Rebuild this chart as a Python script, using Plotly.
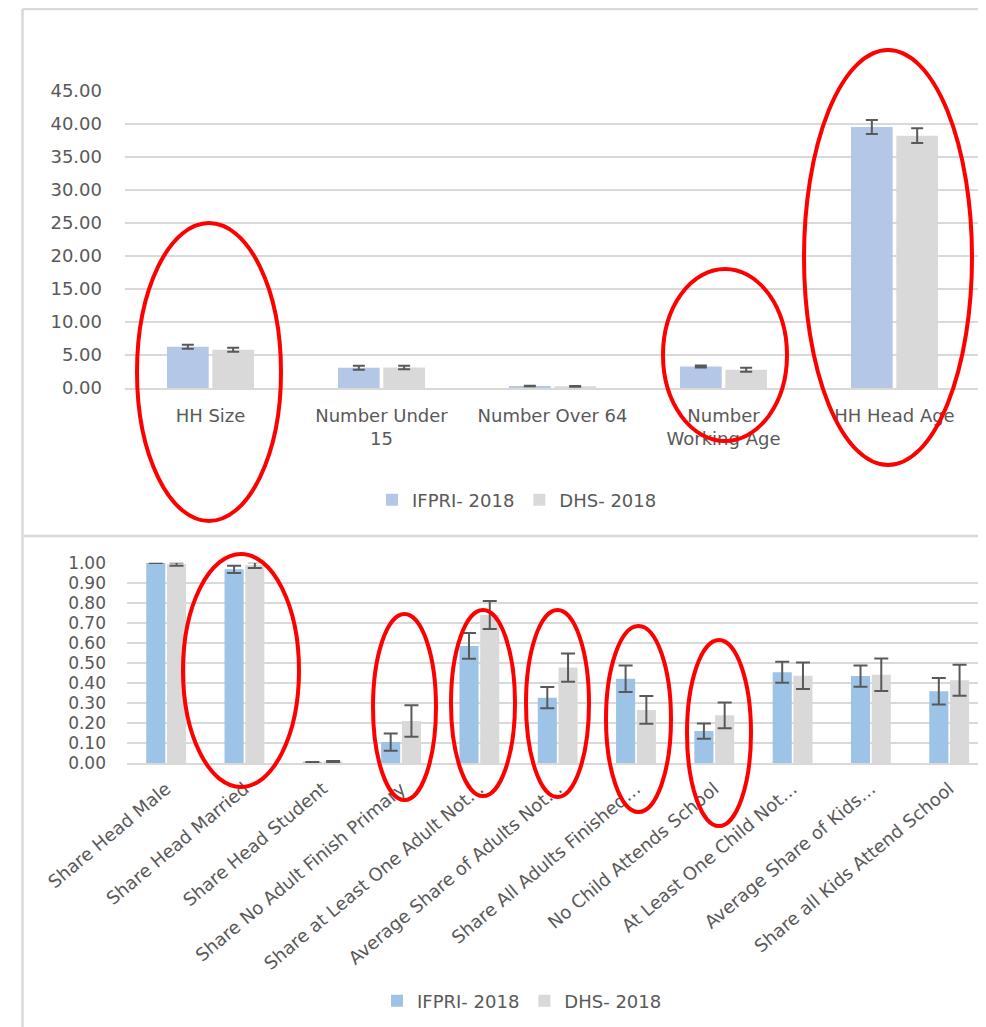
"""Household characteristics: IFPRI 2018 vs DHS 2018, two bar panels with error bars."""
import plotly.graph_objects as go

# page body adds an 8px margin, so the figure is drawn 8px in from the top-left corner
OFF = 8
W, H = 986 - OFF, 1027 - OFF

# top panel: counts / ages
top_categories = ["HH Size", "Number Under<br>15", "Number Over 64", "Number<br>Working Age", "HH Head Age"]
top_ifpri = [6.25, 3.05, 0.3, 3.25, 39.5]
top_ifpri_err = [0.3, 0.3, 0.05, 0.15, 1.05]
top_dhs = [5.8, 3.1, 0.25, 2.75, 38.2]
top_dhs_err = [0.3, 0.25, 0.05, 0.3, 1.1]

# bottom panel: shares
bottom_categories = [
    "Share Head Male",
    "Share Head Married",
    "Share Head Student",
    "Share No Adult Finish Primary",
    "Share at Least One Adult Not…",
    "Average Share of Adults Not…",
    "Share All Adults Finished…",
    "No Child Attends School",
    "At Least One Child Not…",
    "Average Share of Kids…",
    "Share all Kids Attend School",
]
bottom_ifpri = [1.0, 0.967, 0.004, 0.106, 0.585, 0.327, 0.422, 0.161, 0.454, 0.435, 0.359]
bottom_ifpri_err = [0.002, 0.018, 0.002, 0.043, 0.064, 0.053, 0.066, 0.038, 0.052, 0.053, 0.066]
bottom_dhs = [0.993, 0.988, 0.008, 0.211, 0.739, 0.477, 0.266, 0.239, 0.437, 0.442, 0.414]
bottom_dhs_err = [0.008, 0.014, 0.003, 0.079, 0.07, 0.07, 0.069, 0.064, 0.066, 0.081, 0.077]

series_names = ["IFPRI- 2018", "DHS- 2018"]

FONT = "DejaVu Sans"
TXT = "#595959"
GRID = "#D9D9D9"


def px(x):
    return (x - OFF) / W


def py(y):
    return 1 - (y - OFF) / H


def err(vals, w):
    return dict(type="data", array=vals, color="#595959", thickness=2, width=w)


fig = go.Figure()

fig.add_trace(go.Bar(x=top_categories, y=top_ifpri, name=series_names[0], marker_color="#B4C7E7",
                     error_y=err(top_ifpri_err, 6), xaxis="x", yaxis="y", legend="legend",
                     cliponaxis=False))
fig.add_trace(go.Bar(x=top_categories, y=top_dhs, name=series_names[1], marker_color="#D9D9D9",
                     error_y=err(top_dhs_err, 6), xaxis="x", yaxis="y", legend="legend",
                     cliponaxis=False))
fig.add_trace(go.Bar(x=bottom_categories, y=bottom_ifpri, name=series_names[0], marker_color="#9DC3E6",
                     error_y=err(bottom_ifpri_err, 7), xaxis="x2", yaxis="y2", legend="legend2",
                     cliponaxis=False))
fig.add_trace(go.Bar(x=bottom_categories, y=bottom_dhs, name=series_names[1], marker_color="#D9D9D9",
                     error_y=err(bottom_dhs_err, 7), xaxis="x2", yaxis="y2", legend="legend2",
                     cliponaxis=False))

# frame lines of the two chart boxes
frame = [
    dict(x0=px(22.5), x1=px(22.5), y0=py(9), y1=0),
    dict(x0=px(22.5), x1=1, y0=py(9), y1=py(9)),
    dict(x0=px(22.5), x1=1, y0=py(536), y1=py(536)),
]
shapes = [dict(type="line", xref="paper", yref="paper", line=dict(color=GRID, width=2.5), **f)
          for f in frame]

# red hand-drawn highlight ellipses (pixel boxes: x0, x1, y0, y1)
ellipses = [
    (137, 281, 223, 521),
    (663, 787, 269, 441),
    (804, 972, 50, 465),
    (183, 299, 554, 787),
    (373, 436, 614, 800),
    (451, 515, 610, 796),
    (526, 589, 610, 797),
    (606, 671, 626, 812),
    (687, 751, 640, 826),
]
for x0, x1, y0, y1 in ellipses:
    shapes.append(dict(type="circle", xref="paper", yref="paper",
                       x0=px(x0), x1=px(x1), y0=py(y1), y1=py(y0),
                       line=dict(color="#FF0000", width=4)))

axis_font = dict(family=FONT, size=18, color=TXT)

fig.update_layout(
    template="none",
    width=W,
    height=H,
    margin=dict(l=0, r=0, t=0, b=0, pad=0),
    paper_bgcolor="white",
    plot_bgcolor="white",
    barmode="group",
    bargap=0.47,
    bargroupgap=0.08,
    font=dict(family=FONT, color=TXT),
    shapes=shapes,
    xaxis=dict(domain=[px(125), px(980)], anchor="y", range=[-0.5, 4.5], automargin=False,
               tickfont=axis_font, showgrid=False, ticks="", ticklabelstandoff=10,
               showline=True, linecolor=GRID, linewidth=2),
    yaxis=dict(domain=[py(388), py(90.7)], anchor="x", range=[0, 45], dtick=5, automargin=False,
               tickformat=".2f", tickfont=axis_font, gridcolor=GRID, gridwidth=2,
               zeroline=False, ticks="", ticklabelstandoff=22),
    xaxis2=dict(domain=[px(127), 1], anchor="y2", range=[-0.5, 10.47], automargin=False,
                tickfont=axis_font, tickangle=-40, showgrid=False, ticks="",
                ticklabelstandoff=6, showline=True, linecolor=GRID, linewidth=2),
    yaxis2=dict(domain=[py(763.3), py(562.7)], anchor="x2", range=[0, 1], dtick=0.1, automargin=False,
                tickformat=".2f", tickfont=dict(family=FONT, size=17, color=TXT),
                gridcolor=GRID, gridwidth=2, zeroline=False, ticks="", ticklabelstandoff=20),
    legend=dict(orientation="h", x=px(517), xanchor="center", y=py(500), yanchor="middle",
                font=dict(family=FONT, size=18, color=TXT), bgcolor="rgba(0,0,0,0)"),
    legend2=dict(orientation="h", x=px(522), xanchor="center", y=py(1001), yanchor="middle",
                 font=dict(family=FONT, size=18, color=TXT), bgcolor="rgba(0,0,0,0)"),
)

fig.write_html("out.html")
